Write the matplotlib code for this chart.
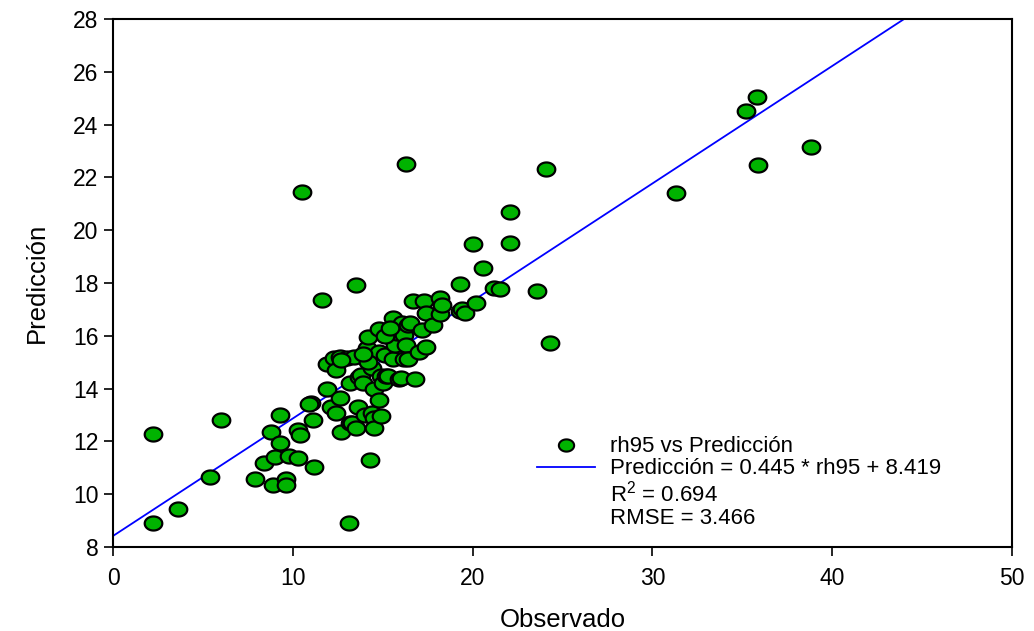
import numpy as np
import matplotlib
matplotlib.use('Agg')
import matplotlib.pyplot as plt
from matplotlib.path import Path
from matplotlib.lines import Line2D

plt.rcParams['font.family'] = ['Liberation Sans', 'DejaVu Sans']

obs = [2.2, 2.2, 3.6, 5.4, 6.0, 7.9, 8.4, 8.8, 8.9, 9.0, 9.3, 9.3, 9.6, 9.6, 9.8,
       10.3, 10.3, 10.4, 10.5, 11.0, 11.1, 11.2, 11.6, 11.9, 11.9, 12.1, 12.3, 12.4,
       12.4, 12.6, 12.6, 12.7, 13.0, 13.1, 13.2, 13.2, 13.3, 13.4, 13.5, 13.5, 13.6,
       13.7, 13.8, 13.9, 14.0, 14.1, 14.1, 14.2, 14.3, 14.4, 14.4, 14.5, 14.5, 14.5,
       14.8, 14.8, 14.8, 14.9, 14.9, 15.0, 15.1, 15.2, 15.3, 15.4, 15.6, 15.6, 15.7,
       15.8, 15.9, 16.0, 16.1, 16.2, 16.2, 16.3, 16.3, 16.4, 16.4, 16.5, 16.7, 16.8,
       17.0, 17.2, 17.3, 17.4, 17.4, 17.8, 18.2, 18.2, 18.3, 19.3, 19.3, 19.4, 19.6,
       20.0, 20.2, 20.6, 21.2, 21.5, 22.1, 22.1, 23.6, 24.1, 24.3, 31.3, 35.2, 35.8,
       35.9, 38.8, 10.9, 12.7, 15.1, 15.4, 14.2, 13.9]
pred = [12.28, 8.92, 9.43, 10.66, 12.81, 10.56, 11.17, 12.37, 10.35, 11.42, 13.0, 11.95,
        10.56, 10.35, 11.45, 11.36, 12.43, 12.23, 21.46, 13.44, 12.81, 11.04, 17.36, 13.97,
        14.92, 13.31, 15.15, 13.06, 14.7, 15.21, 13.66, 12.37, 15.15, 8.92, 12.69, 14.23,
        12.69, 15.21, 12.5, 17.92, 13.31, 14.45, 14.52, 14.2, 13.0, 15.53, 15.21, 15.97,
        11.3, 13.09, 14.77, 12.87, 14.0, 12.5, 13.56, 16.25, 15.4, 12.96, 14.48, 14.2,
        15.27, 14.48, 14.48, 15.97, 16.67, 15.11, 15.65, 16.12, 14.35, 14.39, 16.5, 15.11,
        16.03, 15.65, 22.5, 15.11, 16.42, 16.5, 17.33, 14.35, 15.4, 16.22, 17.33, 16.88,
        15.56, 16.41, 17.45, 16.83, 17.17, 17.95, 16.95, 17.0, 16.88, 19.48, 17.23, 18.55,
        17.8, 17.77, 20.7, 19.5, 17.71, 22.32, 15.74, 21.42, 24.53, 25.06, 22.48, 23.17,
        13.4, 15.1, 16.0, 16.3, 15.0, 15.3]

slope = 0.445
intercept = 8.419
r2 = 0.694
rmse = 3.466

x_ticks = [0, 10, 20, 30, 40, 50]
y_ticks = [8, 10, 12, 14, 16, 18, 20, 22, 24, 26, 28]

fig = plt.figure(figsize=(10.34, 6.31), dpi=100)
ax = fig.add_axes([0.1093, 0.1331, 0.8694, 0.8368])

t = np.linspace(0, 2 * np.pi, 60)
ell = Path(np.column_stack([np.cos(t), 0.8 * np.sin(t)]), closed=True)

ax.scatter(obs, pred, marker=ell, s=160, facecolor='#00b300', edgecolor='black',
           linewidths=1.6, zorder=3)
xl = np.array([0, 50])
ax.plot(xl, slope * xl + intercept, color='#0000ff', lw=1.3, zorder=2)

ax.set_xlim(0, 50)
ax.set_ylim(8, 28)
ax.set_xticks(x_ticks, [str(v) for v in x_ticks], fontsize=16.5)
ax.set_yticks(y_ticks, [str(v) for v in y_ticks], fontsize=16.5)
ax.tick_params(direction='out', length=6.5, width=1.2)
ax.tick_params(axis='x', pad=8)
ax.tick_params(axis='y', pad=4)
for sp in ax.spines.values():
    sp.set_linewidth(1.5)
ax.set_xlabel('Observado', fontsize=18.5, labelpad=13)
ax.set_ylabel('Predicción', fontsize=18.5, labelpad=17)

handles = [
    Line2D([], [], marker=ell, ls='none', ms=11, mfc='#00b300', mec='black', mew=1.5),
    Line2D([], [], color='#0000ff', lw=1.3),
    Line2D([], [], ls='none'),
    Line2D([], [], ls='none'),
]
labels = ['rh95 vs Predicción',
          'Predicción = %.3f * rh95 + %.3f' % (slope, intercept),
          '$\\mathregular{R^2}$ = %.3f' % r2,
          'RMSE = %.3f' % rmse]
ax.legend(handles, labels, loc='lower left', bbox_to_anchor=(0.4716, 0.035),
          frameon=False, fontsize=16, handlelength=2.6, handletextpad=0.7,
          labelspacing=0.05, borderaxespad=0, borderpad=0)

fig.savefig('out.png', dpi=100)
